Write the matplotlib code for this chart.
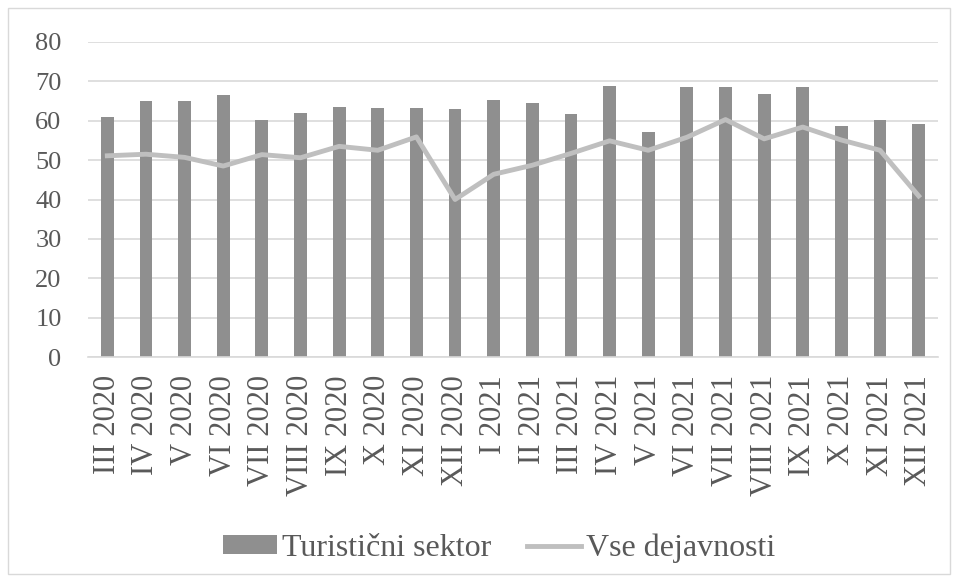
import matplotlib
matplotlib.use("Agg")
import matplotlib.pyplot as plt
from matplotlib.patches import Rectangle
import numpy as np

months = ["III 2020", "IV 2020", "V 2020", "VI 2020", "VII 2020", "VIII 2020",
          "IX 2020", "X 2020", "XI 2020", "XII 2020", "I 2021", "II 2021",
          "III 2021", "IV 2021", "V 2021", "VI 2021", "VII 2021", "VIII 2021",
          "IX 2021", "X 2021", "XI 2021", "XII 2021"]
turisticni = [61.0, 65.0, 65.0, 66.6, 60.1, 62.0, 63.6, 63.3, 63.3, 62.9, 65.2,
              64.6, 61.7, 68.9, 57.1, 68.5, 68.5, 66.9, 68.5, 58.7, 60.1, 59.1]
vse = [51.1, 51.5, 50.7, 48.5, 51.4, 50.6, 53.5, 52.5, 55.9, 40.0, 46.4,
       48.7, 51.7, 54.9, 52.5, 55.8, 60.3, 55.4, 58.4, 55.1, 52.5, 40.9]

plt.rcParams['font.family'] = ['Liberation Serif', 'DejaVu Serif']

fig = plt.figure(figsize=(9.58, 5.82), dpi=100)
ax = fig.add_axes([88 / 958, 1 - 357 / 582, 850 / 958, 315 / 582])

x = np.arange(len(months))
bars = ax.bar(x, turisticni, width=0.33, color="#8f8f8f", label="Turistični sektor", zorder=2)
line, = ax.plot(x, vse, color="#bfbfbf", linewidth=3.5, label="Vse dejavnosti", zorder=3)

ax.set_ylim(0, 80)
ax.set_yticks(range(0, 81, 10))
ax.set_xlim(-0.5, len(months) - 0.5)
ax.set_xticks(x)
ax.set_xticklabels(months, rotation=90)
ax.yaxis.grid(True, color="#d9d9d9", linewidth=1.2, zorder=0)
ax.tick_params(axis="both", length=0, colors="#595959")
ax.tick_params(axis="x", labelsize=22, pad=13)
ax.tick_params(axis="y", labelsize=19, pad=19)
for s in ["top", "right", "left"]:
    ax.spines[s].set_visible(False)
ax.spines["bottom"].set_color("#d9d9d9")
ax.spines["bottom"].set_linewidth(1.2)

fig.legend(handles=[bars, line], loc="center", bbox_to_anchor=(499 / 958, 1 - 548 / 582),
           ncol=2, frameon=False, fontsize=23, handlelength=1.7, handleheight=0.5,
           handletextpad=0.15, columnspacing=1.1, labelcolor="#595959")

fig.patches.append(Rectangle((8 / 958, 8 / 582), 942 / 958, 566 / 582, transform=fig.transFigure,
                             fill=False, edgecolor="#d9d9d9", linewidth=1))

fig.savefig("out.png", dpi=100)
